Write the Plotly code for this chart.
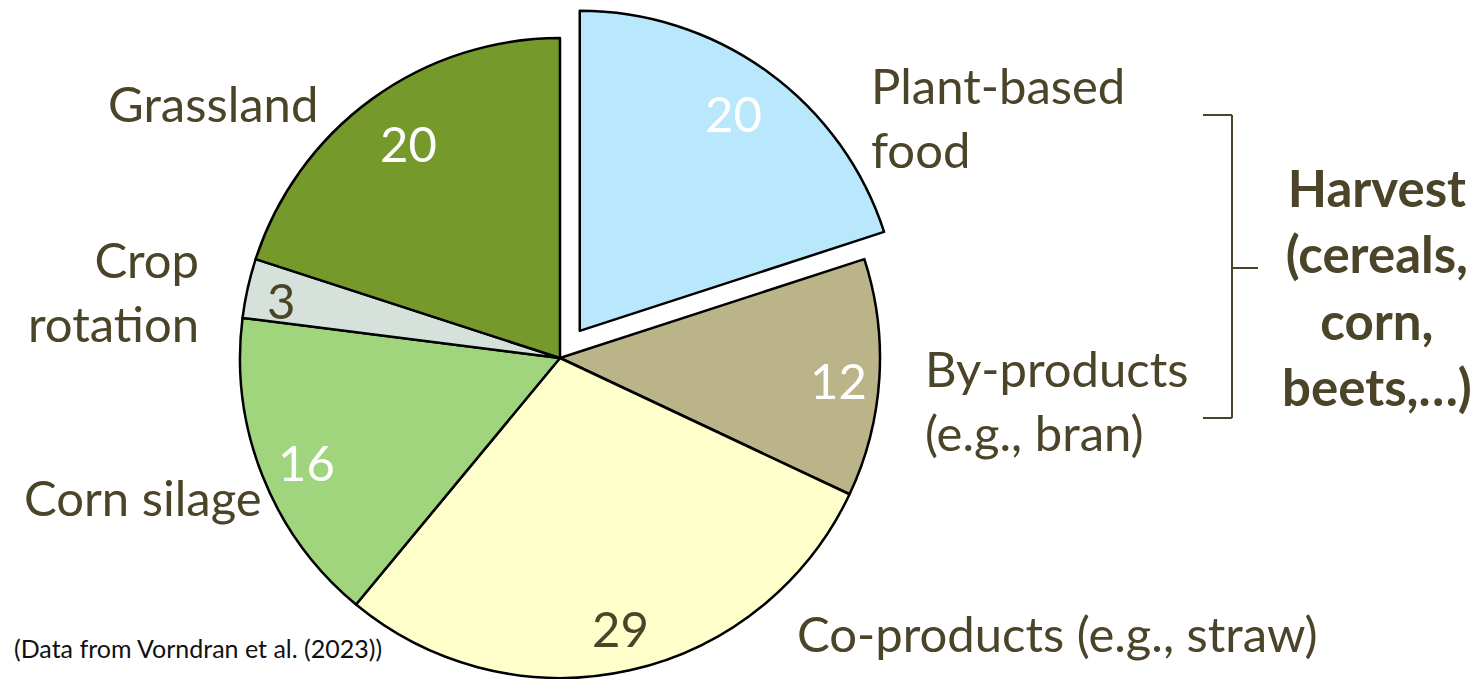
import plotly.graph_objects as go

# ---- data ----
categories = ["Plant-based food", "By-products (e.g., bran)", "Co-products (e.g., straw)",
              "Corn silage", "Crop rotation", "Grassland"]
values = [20, 12, 29, 16, 3, 20]
colors = ["#B9E7FB", "#BAB488", "#FFFFCC", "#A0D57E", "#D7E1DC", "#75992B"]
pulls = [0.105, 0, 0, 0, 0, 0]
value_text_colors = ["white", "white", "#4B4429", "white", "#4B4429", "white"]
outer_labels = ["Plant-based<br>food", "By-products<br>(e.g., bran)", "Co-products (e.g., straw)",
                "Corn silage", "Crop<br>rotation", "Grassland"]
bracket_label = "<b>Harvest<br>(cereals,<br>corn,<br>beets,…)</b>"
source_note = "(Data from Vorndran et al. (2023))"

# ---- layout geometry (pixels) ----
W, H = 1476, 716
CX, CY, R = 560, 358, 320
half = R * (1 + max(pulls))
FONT = "Lato"
TXT = "#4B4429"
FS = 49

def px(x):
    return x / W

def py(y):
    return 1 - y / H

fig = go.Figure(go.Pie(
    labels=categories,
    values=values,
    sort=False,
    direction="clockwise",
    rotation=0,
    pull=pulls,
    marker=dict(colors=colors, line=dict(color="black", width=2.5)),
    textinfo="none",
    hoverinfo="label+value",
    showlegend=False,
    domain=dict(x=[px(CX - half), px(CX + half)], y=[py(CY + half), py(CY - half)]),
))

# value labels inside slices
value_pos = [(733, 113), (838, 380), (620, 628), (306, 462), (281, 300), (408, 143)]
for v, (x, y), c in zip(values, value_pos, value_text_colors):
    fig.add_annotation(x=px(x), y=py(y), xref="paper", yref="paper", text=str(v),
                       showarrow=False, xanchor="center", yanchor="middle",
                       font=dict(family=FONT, size=FS, color=c))

# outer category labels: (x, y, xanchor, align)
label_pos = [(869, 117, "left", "left"), (923, 400, "left", "left"), (795, 633, "left", "left"),
             (264, 497, "right", "right"), (201, 291, "right", "right"), (320, 103, "right", "right")]
for t, (x, y, xa, al) in zip(outer_labels, label_pos):
    fig.add_annotation(x=px(x), y=py(y), xref="paper", yref="paper", text=t,
                       showarrow=False, xanchor=xa, yanchor="middle", align=al,
                       font=dict(family=FONT, size=FS, color=TXT))

# bracket
bc = dict(color=TXT, width=2)
fig.add_shape(type="line", xref="paper", yref="paper", x0=px(1232), x1=px(1232), y0=py(115), y1=py(418), line=bc)
fig.add_shape(type="line", xref="paper", yref="paper", x0=px(1203), x1=px(1232), y0=py(115), y1=py(115), line=bc)
fig.add_shape(type="line", xref="paper", yref="paper", x0=px(1203), x1=px(1232), y0=py(418), y1=py(418), line=bc)
fig.add_shape(type="line", xref="paper", yref="paper", x0=px(1232), x1=px(1258), y0=py(268), y1=py(268), line=bc)

fig.add_annotation(x=px(1377), y=py(287), xref="paper", yref="paper", text=bracket_label,
                   showarrow=False, xanchor="center", yanchor="middle", align="center",
                   font=dict(family=FONT, size=51, color=TXT))

fig.add_annotation(x=px(12), y=py(648), xref="paper", yref="paper", text=source_note,
                   showarrow=False, xanchor="left", yanchor="middle",
                   font=dict(family=FONT, size=25, color="#111111"))

fig.update_layout(
    width=W, height=H,
    margin=dict(l=0, r=0, t=0, b=0),
    paper_bgcolor="white", plot_bgcolor="white",
)

fig.write_html("out.html", config={"displayModeBar": False},
               post_script="document.body.style.margin='0';document.body.style.overflow='hidden';document.documentElement.style.overflow='hidden';")
